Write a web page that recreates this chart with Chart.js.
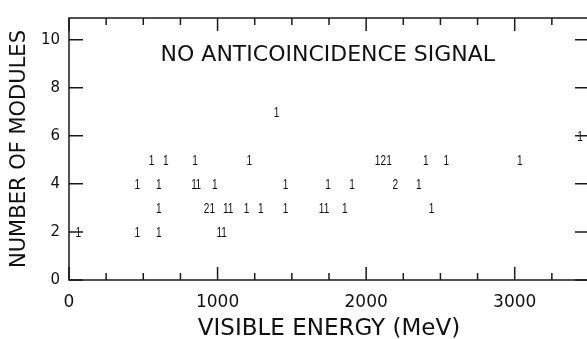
<!DOCTYPE html>
<html>
<head>
<meta charset="utf-8">
<script src="https://cdn.jsdelivr.net/npm/chart.js@4.4.1/dist/chart.umd.min.js"></script>
<style>
  html, body { margin: 0; padding: 0; background: #fff; overflow: hidden; }
  #wrap { position: relative; width: 600px; height: 339px; }
</style>
</head>
<body>
<div id="wrap"><canvas id="eventChart"></canvas></div>
<script>
// each event cell: visible energy (MeV), number of modules hit, count printed there
const energy = [
    1397,
    3440,
    556, 652, 848, 1213, 2076, 2116, 2154, 2401, 2540, 3034,
    459, 605, 841, 870, 982, 1458, 1744, 1906, 2197, 2354,
    605, 925, 964, 1056, 1088, 1195, 1291, 1458, 1700, 1733, 1856, 2440,
    63, 459, 605, 1011, 1043
];
const modules = [
    7,
    6,
    5, 5, 5, 5, 5, 5, 5, 5, 5, 5,
    4, 4, 4, 4, 4, 4, 4, 4, 4, 4,
    3, 3, 3, 3, 3, 3, 3, 3, 3, 3, 3, 3,
    2, 2, 2, 2, 2
];
const counts = [
    1,
    1,
    1, 1, 1, 1, 1, 2, 1, 1, 1, 1,
    1, 1, 1, 1, 1, 1, 1, 1, 2, 1,
    1, 2, 1, 1, 1, 1, 1, 1, 1, 1, 1, 1,
    1, 1, 1, 1, 1
];

const xTickLabels = [0, 1000, 2000, 3000];
const yTickLabels = [0, 2, 4, 6, 8, 10];
const panelText = 'NO ANTICOINCIDENCE SIGNAL';

const points = energy.map((e, i) => ({ x: e, y: modules[i] }));

// print the counts instead of drawing markers (narrow digits like the plotter font)
const countLabels = {
    id: 'countLabels',
    afterDatasetsDraw(chart) {
        const ctx = chart.ctx;
        const meta = chart.getDatasetMeta(0);
        ctx.save();
        ctx.font = '14px "Liberation Sans"';
        ctx.fillStyle = '#111';
        ctx.textAlign = 'center';
        ctx.textBaseline = 'middle';
        meta.data.forEach((pt, i) => {
            ctx.save();
            ctx.translate(pt.x, pt.y + 1);
            ctx.scale(0.72, 1);
            ctx.fillText(String(counts[i]), 0, 0);
            ctx.restore();
        });
        ctx.restore();
    }
};

// box frame with inward ticks on all four sides, plus the panel label
const frameTicks = {
    id: 'frameTicks',
    afterDraw(chart) {
        const { ctx, chartArea: a, scales: { x, y } } = chart;
        ctx.save();
        ctx.strokeStyle = '#1a1a1a';
        ctx.lineWidth = 1.5;
        ctx.strokeRect(a.left, a.top, a.right - a.left, a.bottom - a.top);
        ctx.beginPath();
        for (let v = 0; v <= x.max; v += 250) {
            const px = x.getPixelForValue(v);
            const len = v % 1000 === 0 ? 13 : 7;
            ctx.moveTo(px, a.bottom); ctx.lineTo(px, a.bottom - len);
            ctx.moveTo(px, a.top); ctx.lineTo(px, a.top + len);
        }
        yTickLabels.forEach(v => {
            const py = y.getPixelForValue(v);
            ctx.moveTo(a.left, py); ctx.lineTo(a.left + 14, py);
            ctx.moveTo(a.right, py); ctx.lineTo(a.right - 14, py);
        });
        ctx.stroke();

        ctx.font = '22px "DejaVu Sans"';
        ctx.fillStyle = '#111';
        ctx.textAlign = 'center';
        ctx.textBaseline = 'middle';
        ctx.fillText(panelText, x.getPixelForValue(1742), y.getPixelForValue(9.34));
        ctx.restore();
    }
};

const ctx = document.getElementById('eventChart').getContext('2d');
new Chart(ctx, {
    type: 'scatter',
    data: {
        datasets: [{
            data: points,
            pointRadius: 0,
            pointHoverRadius: 0
        }]
    },
    plugins: [countLabels, frameTicks],
    options: {
        responsive: true,
        maintainAspectRatio: false,
        animation: false,
        layout: {
            padding: { top: 13, right: 11, left: 0, bottom: 0 }
        },
        plugins: {
            legend: { display: false },
            tooltip: { enabled: false }
        },
        scales: {
            x: {
                type: 'linear',
                min: 0,
                max: 3500,
                afterBuildTicks: s => { s.ticks = xTickLabels.map(v => ({ value: v })); },
                afterFit: s => { s.height = 59; },
                grid: { display: false, drawTicks: false },
                border: { display: false },
                ticks: {
                    padding: 12,
                    color: '#111',
                    callback: v => String(v),
                    font: { family: 'DejaVu Sans', size: 17 }
                },
                title: {
                    display: true,
                    text: 'VISIBLE ENERGY (MeV)',
                    color: '#111',
                    padding: { top: 0, bottom: 0 },
                    font: { family: 'DejaVu Sans', size: 23, lineHeight: 0.9 }
                }
            },
            y: {
                type: 'linear',
                min: 0,
                max: 10.9,
                afterBuildTicks: s => { s.ticks = yTickLabels.map(v => ({ value: v })); },
                afterFit: s => { s.width = 69; },
                grid: { display: false, drawTicks: false },
                border: { display: false },
                ticks: {
                    padding: 9,
                    color: '#111',
                    callback: v => String(v),
                    font: { family: 'DejaVu Sans', size: 15 }
                },
                title: {
                    display: true,
                    text: 'NUMBER OF MODULES',
                    color: '#111',
                    padding: { top: 9.5, bottom: 0 },
                    font: { family: 'DejaVu Sans', size: 21, lineHeight: 1 }
                }
            }
        }
    }
});
</script>
</body>
</html>
